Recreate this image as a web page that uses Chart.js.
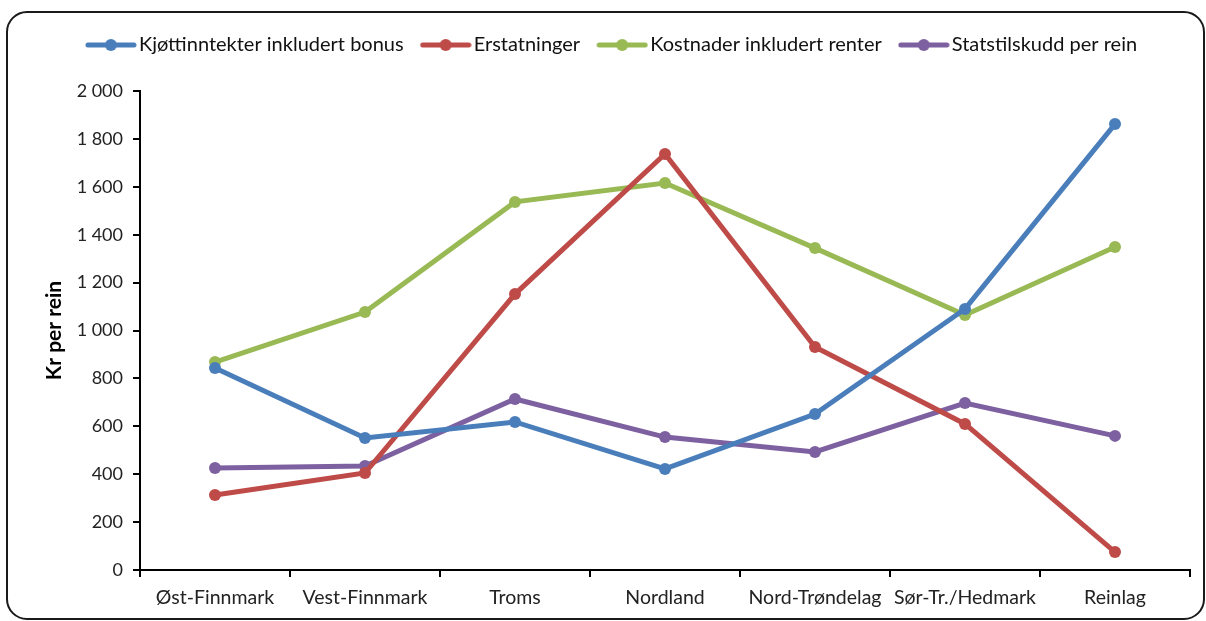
<!DOCTYPE html>
<html>
<head>
<meta charset="utf-8">
<script src="https://cdn.jsdelivr.net/npm/chart.js@4.4.0/dist/chart.umd.min.js"></script>
<style>
html,body{margin:0;padding:0;background:#fff;}
#wrap{width:1206px;height:621px;position:relative;}
</style>
</head>
<body>
<div id="wrap"><canvas id="c" width="1206" height="621"></canvas></div>
<script>
const categories = ["Øst-Finnmark","Vest-Finnmark","Troms","Nordland","Nord-Trøndelag","Sør-Tr./Hedmark","Reinlag"];
const kjottinntekter = [843, 551, 618, 422, 651, 1090, 1862];
const erstatninger   = [313, 405, 1152, 1737, 931, 610, 75];
const kostnader      = [868, 1077, 1537, 1616, 1344, 1065, 1349];
const statstilskudd  = [426, 434, 714, 555, 493, 697, 560];
const seriesNames = ["Kjøttinntekter inkludert bonus","Erstatninger","Kostnader inkludert renter","Statstilskudd per rein"];
const colors = ["#4A7EBB","#BE4B48","#98B954","#7D60A0"];

const FONT = "Lato";

function legendIcon(color){
  const cv = document.createElement('canvas');
  cv.width = 52; cv.height = 14;
  const g = cv.getContext('2d');
  g.strokeStyle = color; g.lineWidth = 5; g.lineCap = 'round';
  g.beginPath(); g.moveTo(3,7); g.lineTo(49,7); g.stroke();
  g.fillStyle = color;
  g.beginPath(); g.arc(26,7,6,0,Math.PI*2); g.fill();
  return cv;
}

function fmt(v){
  const s = String(Math.round(v));
  return s.replace(/\B(?=(\d{3})+(?!\d))/g, " ");
}

const frame = {
  id:'frame',
  beforeDraw(chart){
    const ctx = chart.ctx;
    ctx.save();
    ctx.fillStyle = '#fff';
    ctx.fillRect(0,0,chart.width,chart.height);
    ctx.strokeStyle = '#1a1a1a';
    ctx.lineWidth = 2;
    ctx.beginPath();
    ctx.roundRect(7, 12, 1197, 607, 20);
    ctx.stroke();
    ctx.restore();
  }
};

const data = {
  labels: categories,
  datasets: [kjottinntekter, erstatninger, kostnader, statstilskudd].map((d,i)=>({
    label: seriesNames[i],
    data: d,
    borderColor: colors[i],
    backgroundColor: colors[i],
    borderWidth: 5,
    pointRadius: 6,
    pointHoverRadius: 6,
    pointBorderWidth: 0,
    pointStyle: 'circle',
    tension: 0
  }))
};

new Chart(document.getElementById('c'), {
  type: 'line',
  data,
  plugins: [frame],
  options: {
    responsive: false,
    animation: false,
    events: [],
    layout: { padding: { left: 40, right: 16, top: 11, bottom: 0 } },
    plugins: {
      tooltip: { enabled: false },
      title: { display: true, text: '', position: 'top', weight: 500, padding: { top: 0, bottom: 14 }, font: { size: 10 } },
      legend: {
        position: 'top',
        weight: 1000,
        labels: {
          usePointStyle: true,
          pointStyleWidth: 36,
          generateLabels(chart){
            return chart.data.datasets.map((ds,i)=>({
              text: ds.label,
              pointStyle: legendIcon(colors[i]),
              fillStyle: colors[i],
              strokeStyle: colors[i],
              lineWidth: 0,
              hidden: false,
              datasetIndex: i,
              fontColor: '#111'
            }));
          },
          font: { family: FONT, size: 20 },
          color: '#111',
          padding: 24
        }
      }
    },
    scales: {
      x: {
        offset: true,
        grid: { display: true, offset: true, drawOnChartArea: false, drawTicks: true, tickLength: 7, color: '#000', lineWidth: 2 },
        border: { display: true, color: '#000', width: 2 },
        ticks: { font: { family: FONT, size: 19.5 }, color: '#222', padding: 9, maxRotation: 0, autoSkip: false },
        afterFit(scale){ scale.height = 51; }
      },
      y: {
        min: 0, max: 2000,
        grid: { display: true, drawOnChartArea: false, drawTicks: true, tickLength: 7, color: '#000', lineWidth: 2 },
        border: { display: true, color: '#000', width: 2 },
        ticks: { stepSize: 200, font: { family: FONT, size: 18 }, color: '#222', padding: 10, callback: v => fmt(v) },
        title: { display: true, text: 'Kr per rein', font: { family: FONT, size: 21, weight: 'bold' }, color: '#000', padding: { top: 2, bottom: 4 } },
        afterFit(scale){ scale.width = 100; }
      }
    }
  }
});
</script>
</body>
</html>
